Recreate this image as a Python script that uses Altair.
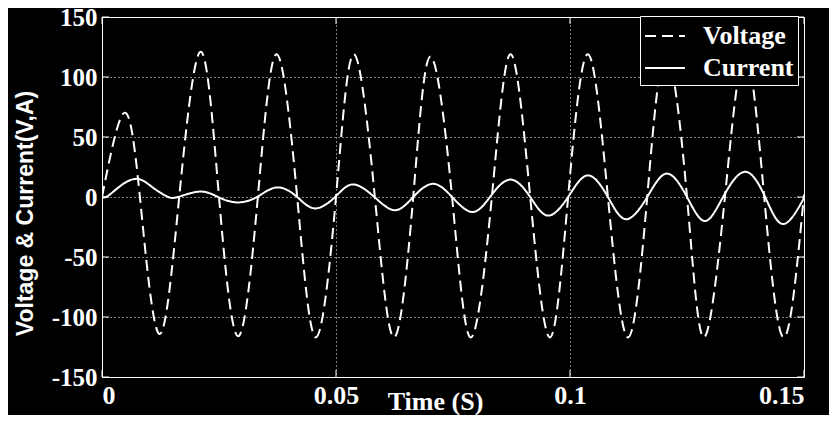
import altair as alt
import pandas as pd

# Voltage key points (time in s, volts)
v_t = [0.0000, 0.0047, 0.0081, 0.0122, 0.0165, 0.0211, 0.0250, 0.0291, 0.0333,
       0.0373, 0.0417, 0.0457, 0.0500, 0.0538, 0.0583, 0.0624, 0.0665, 0.0702,
       0.0748, 0.0788, 0.0833, 0.0873, 0.0915, 0.0957, 0.0996, 0.1038, 0.1081,
       0.1124, 0.1165, 0.1205, 0.1250, 0.1286, 0.1331, 0.1374, 0.1415, 0.1457,
       0.1500]
v_val = [0, 70, 0, -114, 0, 121, 0, -116, 0,
         119, 0, -117, 0, 119, 0, -117, 0, 117,
         0, -117, 0, 119, 0, -117, 0, 119, 0,
         -117, 0, 119, 0, -117, 0, 119, 0, -117,
         2]

# Current key points (time in s, amps)
i_t = [0.0000, 0.0013, 0.0042, 0.0077, 0.0110, 0.0139, 0.0162, 0.0209, 0.0248,
       0.0288, 0.0331, 0.0374, 0.0417, 0.0455, 0.0498, 0.0536, 0.0582, 0.0626,
       0.0665, 0.0707, 0.0748, 0.0791, 0.0829, 0.0872, 0.0915, 0.0953, 0.0996,
       0.1038, 0.1081, 0.1120, 0.1165, 0.1207, 0.1250, 0.1288, 0.1327, 0.1374,
       0.1417, 0.1455, 0.1500]
i_val = [0, 1, 10, 15, 7.5, 0.5, 0, 4.5, 0,
         -4.5, 0, 8, 0, -9.5, 0, 10.5, 0, -11,
         0, 11, 0, -12.5, 0, 14.5, 0, -15.5, 0,
         18, 0, -18.5, 0, 19.5, 0, -20, 0, 21,
         0, -22.5, -1]

series_names = ["Voltage", "Current"]
x_ticks = [0, 0.05, 0.1, 0.15]
y_ticks = [-150, -100, -50, 0, 50, 100, 150]

df = pd.concat([
    pd.DataFrame({"t": v_t, "val": v_val, "series": series_names[0]}),
    pd.DataFrame({"t": i_t, "val": i_val, "series": series_names[1]}),
])

W, H = 702, 360
SERIF = "Liberation Serif"
SANS = "Liberation Sans"

x_scale = alt.Scale(domain=[0, 0.15], nice=False, zero=False)
y_scale = alt.Scale(domain=[-150, 150], nice=False)

lines = alt.Chart(df).mark_line(
    strokeWidth=2, color="white", interpolate="natural", clip=True
).encode(
    x=alt.X("t:Q", scale=x_scale, axis=alt.Axis(
        values=x_ticks, title="Time (S)", labelExpr="datum.value + ''",
        titleX=333, titleY=32, titleBaseline="alphabetic", titleAnchor="start",
        titleAlign="center",
    )),
    y=alt.Y("val:Q", scale=y_scale, axis=alt.Axis(
        values=y_ticks, title="Voltage & Current(V,A)",
        labelExpr="datum.value + ''",
        titleX=-77, titleY=196, titleAngle=270, titleBaseline="middle",
        titleAlign="center", titleAnchor="start",
    )),
    strokeDash=alt.StrokeDash(
        "series:N",
        scale=alt.Scale(domain=series_names, range=[[11, 6], [1, 0]]),
        legend=alt.Legend(
            orient="none", legendX=538, legendY=-1, title=None,
            symbolType="M-1.33,0H1.33", symbolSize=900, symbolStrokeWidth=2,
            symbolStrokeColor="white", symbolFillColor="transparent",
            symbolOffset=5,
            labelFont=SERIF, labelFontWeight="bold", labelFontSize=26,
            labelColor="white", strokeColor="white", fillColor="black",
            padding=4, rowPadding=3, labelOffset=22, cornerRadius=0,
        ),
    ),
)

yt = pd.DataFrame({"v": y_ticks})
xt = pd.DataFrame({"v": x_ticks})
tick_l = alt.Chart(yt).mark_rule(color="white", strokeWidth=1).encode(
    y=alt.Y("v:Q", scale=y_scale), x=alt.value(0), x2=alt.value(7))
tick_r = alt.Chart(yt).mark_rule(color="white", strokeWidth=1).encode(
    y=alt.Y("v:Q", scale=y_scale), x=alt.value(W - 7), x2=alt.value(W))
tick_b = alt.Chart(xt).mark_rule(color="white", strokeWidth=1).encode(
    x=alt.X("v:Q", scale=x_scale), y=alt.value(H - 7), y2=alt.value(H))
tick_t = alt.Chart(xt).mark_rule(color="white", strokeWidth=1).encode(
    x=alt.X("v:Q", scale=x_scale), y=alt.value(0), y2=alt.value(7))

chart = alt.layer(lines, tick_l, tick_r, tick_b, tick_t).properties(
    width=W, height=H,
    autosize=alt.AutoSizeParams(type="none"),
    padding={"left": 94, "top": 9, "right": 25, "bottom": 38},
    background="black",
).configure_view(
    stroke="white", strokeWidth=1, fill="black",
).configure_axis(
    domain=False, ticks=False, grid=True,
    gridColor="white", gridDash=[1, 3], gridWidth=1, gridOpacity=1,
    labelFont=SERIF, labelFontWeight="bold", labelFontSize=26,
    labelColor="white", labelPadding=5,
    titleFont=SERIF, titleFontWeight="bold", titleFontSize=26,
    titleColor="white",
).configure_axisY(
    titleFont=SANS, titleFontSize=23, labelFontSize=25,
)

chart.save("out.html", embed_options={"renderer": "svg", "actions": False})
